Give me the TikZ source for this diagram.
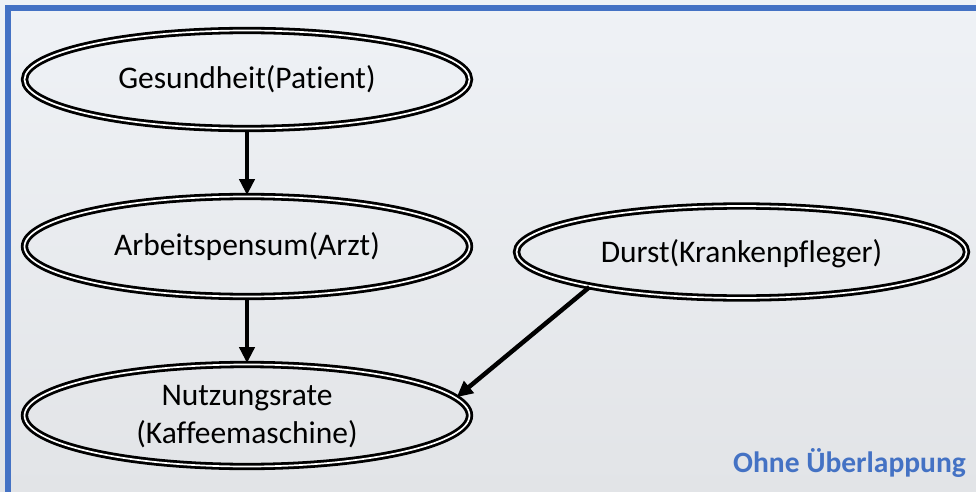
\documentclass[tikz,border=0pt]{standalone}
\usepackage{fontspec}
\setmainfont{Carlito}[Ligatures={NoCommon}]
\usetikzlibrary{shapes.geometric,arrows.meta}
\definecolor{bgtop}{HTML}{EFF2F6}
\definecolor{bgbot}{HTML}{E2E4E7}
\definecolor{frameblue}{HTML}{4472C4}
\tikzset{
  oval/.style={ellipse, draw=black, line width=2.8pt, double=white, double distance=1.7pt, inner sep=0pt},
  lbl/.style={inner sep=0pt, align=center, font=\fontsize{31.5}{38}\selectfont, text=black},
  conn/.style={line width=4.5pt, -{Triangle[length=16pt,width=15pt]}}
}
\begin{document}
\begin{tikzpicture}[x=1pt,y=-1pt]
\useasboundingbox (0,0) rectangle (976,492);
\shade[top color=bgtop, bottom color=bgbot] (0,0) rectangle (976,492);
\fill[frameblue] (5,5) rectangle (976,11);
\fill[frameblue] (5,5) rectangle (11,492);

\node[oval, minimum width=445pt, minimum height=98pt] (ges) at (247,79.5) {};
\node[lbl] at (ges) {Gesundheit(Patient)};

\node[oval, minimum width=445pt, minimum height=100pt] (arb) at (247,246.5) {};
\node[lbl] at (arb) {Arbeitspensum(Arzt)};

\node[oval, minimum width=450pt, minimum height=92pt] (dur) at (741.5,252) {};
\node[lbl] at ([yshift=-2pt]dur.center) {Durst(Krankenpfleger)};

\node[oval, minimum width=445pt, minimum height=102pt] (nut) at (247,415.5) {};
\node[lbl] at ([yshift=-1pt]nut.center) {Nutzungsrate\\(Kaffeemaschine)};

\node[anchor=base east, inner sep=0pt, font=\fontsize{29.5}{35}\selectfont\bfseries, text=frameblue] (title) at (966,472) {Ohne Überlappung};

\draw[conn] (ges.south) -- (arb.north);
\draw[conn] (arb.south) -- (nut.north);
\draw[conn] (dur.193) -- (nut.5);
\end{tikzpicture}
\end{document}
